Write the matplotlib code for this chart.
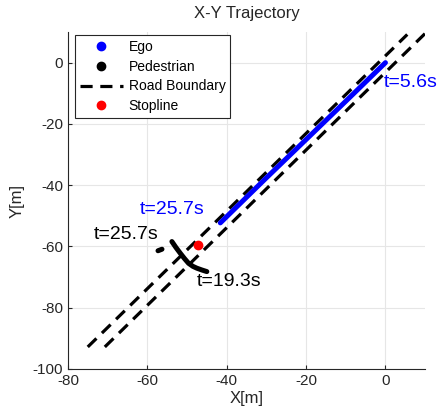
import numpy as np
import matplotlib
matplotlib.use("Agg")
import matplotlib.pyplot as plt
from matplotlib.lines import Line2D

plt.rcParams["font.family"] = ["Liberation Sans", "DejaVu Sans"]
plt.rcParams["axes.unicode_minus"] = False

# Road boundaries (end points of each dashed boundary line)
road_left_x = [-75.0, 5.5]
road_left_y = [-92.8, 9.2]
road_right_x = [-70.7, 10.3]
road_right_y = [-92.8, 9.9]

# Ego trajectory
ego_x = [-41.6, -30.0, -20.0, -10.0, 0.0]
ego_y = [-52.3, -37.6, -25.1, -12.6, 0.0]

# Pedestrian trajectory (NaN splits the gap in the track)
ped_x = [-57.3, -56.3, np.nan, -53.8, -52.8, -51.7, -50.6, -49.6, -48.5, -47.5, -46.2, -45.0]
ped_y = [-61.4, -60.9, np.nan, -58.4, -60.3, -62.2, -64.0, -65.5, -66.5, -67.1, -67.7, -68.2]

# Stopline
stop_x = [-47.1]
stop_y = [-59.5]

fig = plt.figure(figsize=(4.41, 4.16), dpi=100)
ax = fig.add_axes([0.154, 0.113, 0.81, 0.81])

dash = (3.8, 2.4)
ax.plot(road_left_x, road_left_y, color="black", lw=2.3, dashes=dash)
ax.plot(road_right_x, road_right_y, color="black", lw=2.3, dashes=dash)
ax.plot(ego_x, ego_y, color="blue", lw=3.6, solid_capstyle="round")
ax.plot(ped_x, ped_y, color="black", lw=3.6, solid_capstyle="round")
ax.plot(stop_x, stop_y, "o", color="red", ms=6)

txt = dict(fontsize=14, va="center", ha="left")
ax.text(-62.0, -48.0, "t=25.7s", color="blue", **txt)
ax.text(-73.6, -56.2, "t=25.7s", color="black", **txt)
ax.text(-47.6, -71.6, "t=19.3s", color="black", **txt)
ax.text(-0.4, -6.5, "t=5.6s", color="blue", **txt)

ax.set_xlim(-80, 10)
ax.set_ylim(-100, 10)
ax.set_xticks([-80, -60, -40, -20, 0])
ax.set_yticks([-100, -80, -60, -40, -20, 0])
ax.tick_params(direction="in", length=3, labelsize=11, colors="#262626")
ax.grid(True, color="#e6e6e6", lw=0.8)
ax.set_axisbelow(True)
for s in ["top", "right"]:
    ax.spines[s].set_visible(False)
for s in ["left", "bottom"]:
    ax.spines[s].set_color("#262626")
    ax.spines[s].set_linewidth(0.8)

ax.set_xlabel("X[m]", fontsize=12, color="#262626", labelpad=2)
ax.set_ylabel("Y[m]", fontsize=12, color="#262626", labelpad=6)
ax.set_title("X-Y Trajectory", fontsize=12, color="#262626", pad=10)

handles = [
    Line2D([], [], ls="none", marker="o", color="blue", ms=6),
    Line2D([], [], ls="none", marker="o", color="black", ms=6),
    Line2D([], [], color="black", lw=2.3, dashes=dash),
    Line2D([], [], ls="none", marker="o", color="red", ms=6),
]
labels = ["Ego", "Pedestrian", "Road Boundary", "Stopline"]
leg = ax.legend(handles, labels, loc="upper left", bbox_to_anchor=(0.02, 0.99),
                fontsize=10, fancybox=False, framealpha=1, edgecolor="#262626",
                handlelength=3.1, handletextpad=0.4, labelspacing=0.4,
                borderpad=0.35, borderaxespad=0.0)
leg.get_frame().set_linewidth(0.8)

fig.savefig("out.png", dpi=100)
